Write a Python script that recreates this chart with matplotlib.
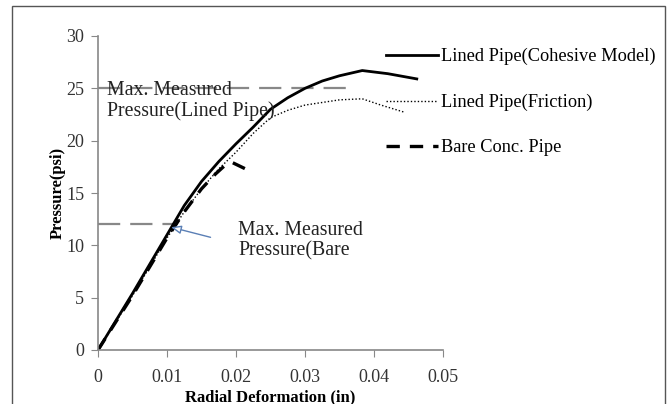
import matplotlib
matplotlib.use('Agg')
import matplotlib.pyplot as plt
from matplotlib.patches import Rectangle

plt.rcParams['font.family'] = ['Liberation Serif', 'DejaVu Serif']

# values
cohesive_x = [0, 0.005, 0.01, 0.0125, 0.015, 0.0175, 0.02, 0.0225, 0.025, 0.0275,
              0.03, 0.0325, 0.035, 0.0383, 0.042, 0.0462]
cohesive_y = [0, 5.4, 11.0, 13.8, 16.1, 18.0, 19.7, 21.3, 23.0, 24.1,
              25.0, 25.7, 26.2, 26.7, 26.4, 25.9]

friction_x = [0, 0.005, 0.01, 0.0125, 0.015, 0.0175, 0.02, 0.0225, 0.025, 0.0275,
              0.03, 0.035, 0.0383, 0.041, 0.0445]
friction_y = [0, 5.2, 10.7, 13.2, 15.4, 17.3, 18.9, 20.7, 22.2, 22.9,
              23.4, 23.9, 24.0, 23.4, 22.7]

bare_x = [0, 0.005, 0.01, 0.0125, 0.015, 0.017, 0.0185, 0.0195, 0.0217]
bare_y = [0, 5.2, 10.7, 13.2, 15.4, 16.8, 17.7, 17.9, 17.2]

lined_max = 25
lined_max_x = [0, 0.036]
bare_max = 12
bare_max_x = [0, 0.0116]

labels = ['Lined Pipe(Cohesive Model)', 'Lined Pipe(Friction)', 'Bare Conc. Pipe']
xticks = [0, 0.01, 0.02, 0.03, 0.04, 0.05]
xtick_labels = ['0', '0.01', '0.02', '0.03', '0.04', '0.05']
yticks = [0, 5, 10, 15, 20, 25, 30]

fig = plt.figure(figsize=(6.67, 4.04), dpi=100)
ax = fig.add_axes([98 / 667, 54 / 404, 345 / 667, 314 / 404])

# outer frame of the picture
fig.patches.append(Rectangle((12 / 667, -0.05), 653 / 667, 1.05 - 6 / 404,
                             transform=fig.transFigure, fill=False,
                             edgecolor='#555555', linewidth=1.0))

grey = '#888888'
ax.plot(lined_max_x, [lined_max] * 2, color=grey, lw=1.6, dashes=(10, 4.5))
ax.plot(bare_max_x, [bare_max] * 2, color=grey, lw=1.6, dashes=(10, 4.5))

l1, = ax.plot(cohesive_x, cohesive_y, color='black', lw=2.0)
l2, = ax.plot(friction_x, friction_y, color='black', lw=1.0, ls=(0, (1, 1.5)))
l3, = ax.plot(bare_x, bare_y, color='black', lw=2.4, dashes=(4, 3))

ax.annotate('', xy=(0.0102, 11.8), xytext=(0.0167, 10.7),
            arrowprops=dict(arrowstyle='-|>,head_length=0.6,head_width=0.25',
                            fc='white', ec='#5a7fb5', lw=1.0))

ax.text(0.0013, 23.8, 'Max. Measured\nPressure(Lined Pipe)', fontsize=14.3,
        color='#222222', va='center', linespacing=1.08)
ax.text(0.0203, 10.4, 'Max. Measured\nPressure(Bare', fontsize=14.3,
        color='#222222', va='center', linespacing=1.08)

ax.set_xlim(0, 0.05)
ax.set_ylim(0, 30)
ax.set_xticks(xticks)
ax.set_xticklabels(xtick_labels)
ax.set_yticks(yticks)
for s in ['top', 'right']:
    ax.spines[s].set_visible(False)
for s in ['left', 'bottom']:
    ax.spines[s].set_color(grey)
    ax.spines[s].set_linewidth(1.2)
ax.tick_params(direction='out', length=5, color=grey, labelsize=13,
               labelcolor='#333333')
ax.tick_params(axis='x', pad=9)
ax.tick_params(axis='y', pad=5)

ax.set_xlabel('Radial Deformation (in)', fontsize=12, fontweight='bold', labelpad=2)
ax.set_ylabel('Pressure(psi)', fontsize=12, fontweight='bold', labelpad=0.5)

fig.legend([l1, l2, l3], labels, loc='upper left',
           bbox_to_anchor=(386 / 667, 1 - 48 / 404), frameon=False,
           fontsize=13.2, handlelength=2.85, handletextpad=0.15,
           labelspacing=1.55, borderpad=0, borderaxespad=0)

fig.savefig('out.png', dpi=100)
